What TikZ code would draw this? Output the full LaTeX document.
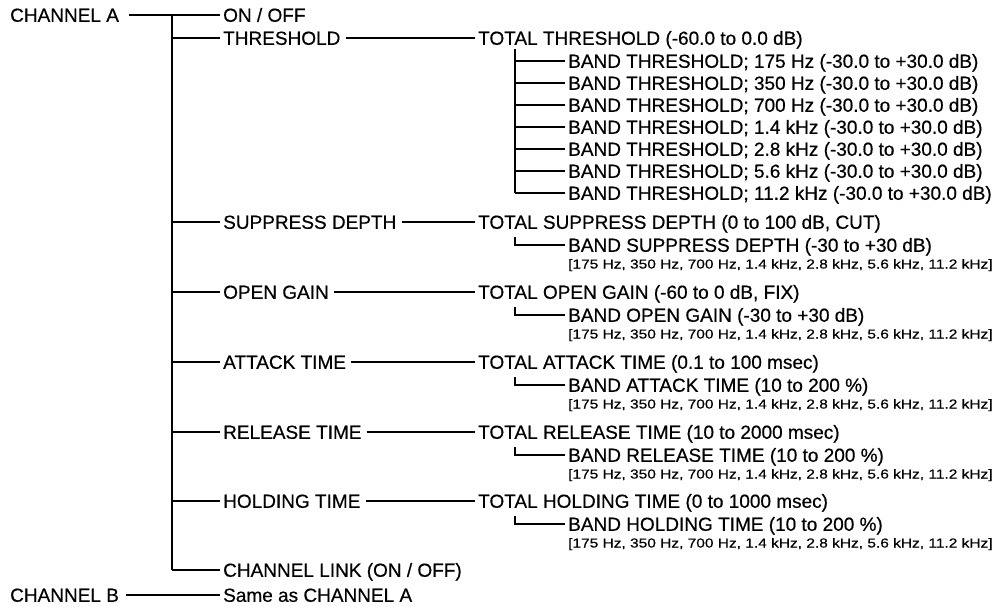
\documentclass[tikz,border=0pt]{standalone}
\usepackage{fontspec}
\setmainfont{Liberation Sans}[FakeBold=0.5]
\newfontfamily\smallfam{Liberation Sans}[FakeStretch=1.19,FakeBold=0.4]
\begin{document}
\begin{tikzpicture}[x=1pt,y=-1pt,
  lbl/.style={anchor=west, inner xsep=3pt, inner ysep=0pt, text height=13.6pt, text depth=0pt, font=\fontsize{19}{22}\selectfont},
  sm/.style={anchor=west, inner xsep=3pt, inner ysep=0pt, text height=9pt, text depth=0pt, font=\smallfam\fontsize{13}{15}\selectfont},
  conn/.style={line width=1.4pt},
  trunkline/.style={line width=2.3pt},
  corner/.style={line width=1.7pt}]
\useasboundingbox (0,0) rectangle (1004,607);
\coordinate (T) at (172,0);
\coordinate (S) at (515,0);
% column 1
\node[lbl] (chA) at (7,15) {CHANNEL A};
\node[lbl] (onoff) at (220,15) {ON / OFF};
\node[lbl] (thr) at (220,38) {THRESHOLD};
\node[lbl] (sup) at (220,222) {SUPPRESS DEPTH};
\node[lbl] (opg) at (220,292) {OPEN GAIN};
\node[lbl] (att) at (220,362) {ATTACK TIME};
\node[lbl] (rel) at (220,432) {RELEASE TIME};
\node[lbl] (hold) at (220,501) {HOLDING TIME};
\node[lbl] (link) at (220,570) {CHANNEL LINK (ON / OFF)};
\node[lbl] (chB) at (7,595) {CHANNEL B};
\node[lbl] (same) at (220,595) {Same as CHANNEL A};
% column 2
\node[lbl] (tthr) at (475,38) {TOTAL THRESHOLD (-60.0 to 0.0 dB)};
\node[lbl] (tsup) at (475,222) {TOTAL SUPPRESS DEPTH (0 to 100 dB, CUT)};
\node[lbl] (topg) at (475,292) {TOTAL OPEN GAIN (-60 to 0 dB, FIX)};
\node[lbl] (tatt) at (475,362) {TOTAL ATTACK TIME (0.1 to 100 msec)};
\node[lbl] (trel) at (475,432) {TOTAL RELEASE TIME (10 to 2000 msec)};
\node[lbl] (thold) at (475,501) {TOTAL HOLDING TIME (0 to 1000 msec)};
% column 3: thresholds
\node[lbl] (b1) at (565,61) {BAND THRESHOLD; 175 Hz (-30.0 to +30.0 dB)};
\node[lbl] (b2) at (565,83) {BAND THRESHOLD; 350 Hz (-30.0 to +30.0 dB)};
\node[lbl] (b3) at (565,105) {BAND THRESHOLD; 700 Hz (-30.0 to +30.0 dB)};
\node[lbl] (b4) at (565,127) {BAND THRESHOLD; 1.4 kHz (-30.0 to +30.0 dB)};
\node[lbl] (b5) at (565,149) {BAND THRESHOLD; 2.8 kHz (-30.0 to +30.0 dB)};
\node[lbl] (b6) at (565,171) {BAND THRESHOLD; 5.6 kHz (-30.0 to +30.0 dB)};
\node[lbl] (b7) at (565,193) {BAND THRESHOLD; 11.2 kHz (-30.0 to +30.0 dB)};
% column 3: bands
\node[lbl] (bsup) at (565,245) {BAND SUPPRESS DEPTH (-30 to +30 dB)};
\node[sm] (fsup) at (565,264) {[175 Hz, 350 Hz, 700 Hz, 1.4 kHz, 2.8 kHz, 5.6 kHz, 11.2 kHz]};
\node[lbl] (bopg) at (565,315) {BAND OPEN GAIN (-30 to +30 dB)};
\node[sm] (fopg) at (565,334) {[175 Hz, 350 Hz, 700 Hz, 1.4 kHz, 2.8 kHz, 5.6 kHz, 11.2 kHz]};
\node[lbl] (batt) at (565,385) {BAND ATTACK TIME (10 to 200 \%)};
\node[sm] (fatt) at (565,404) {[175 Hz, 350 Hz, 700 Hz, 1.4 kHz, 2.8 kHz, 5.6 kHz, 11.2 kHz]};
\node[lbl] (brel) at (565,455) {BAND RELEASE TIME (10 to 200 \%)};
\node[sm] (frel) at (565,474) {[175 Hz, 350 Hz, 700 Hz, 1.4 kHz, 2.8 kHz, 5.6 kHz, 11.2 kHz]};
\node[lbl] (bhold) at (565,524) {BAND HOLDING TIME (10 to 200 \%)};
\node[sm] (fhold) at (565,543) {[175 Hz, 350 Hz, 700 Hz, 1.4 kHz, 2.8 kHz, 5.6 kHz, 11.2 kHz]};
% connectors
\draw[conn, shorten <=7pt] (chA.east) -- (onoff.west);
\draw[conn, shorten <=4pt] (chB.east) -- (same.west);
\draw[trunkline] (onoff.west -| T) -- (link.west -| T);
\foreach \n in {thr,sup,opg,att,rel,hold,link}
  \draw[conn] (\n.west -| T) -- (\n.west);
\draw[conn, shorten <=2pt] (thr.east) -- (tthr.west);
\draw[conn, shorten <=2pt] (sup.east) -- (tsup.west);
\draw[conn, shorten <=2pt] (opg.east) -- (topg.west);
\draw[conn, shorten <=2pt] (att.east) -- (tatt.west);
\draw[conn, shorten <=2pt] (rel.east) -- (trel.west);
\draw[conn, shorten <=2pt] (hold.east) -- (thold.west);
\draw[trunkline, shorten <=4pt] (tthr.south -| S) -- (b7.west -| S);
\foreach \n in {b1,b2,b3,b4,b5,b6,b7}
  \draw[conn] (\n.west -| S) -- (\n.west);
\draw[corner, shorten <=8pt] (tsup.south -| S) -- (bsup.west -| S) -- (bsup.west);
\draw[corner, shorten <=8pt] (topg.south -| S) -- (bopg.west -| S) -- (bopg.west);
\draw[corner, shorten <=8pt] (tatt.south -| S) -- (batt.west -| S) -- (batt.west);
\draw[corner, shorten <=8pt] (trel.south -| S) -- (brel.west -| S) -- (brel.west);
\draw[corner, shorten <=8pt] (thold.south -| S) -- (bhold.west -| S) -- (bhold.west);
\end{tikzpicture}
\end{document}
